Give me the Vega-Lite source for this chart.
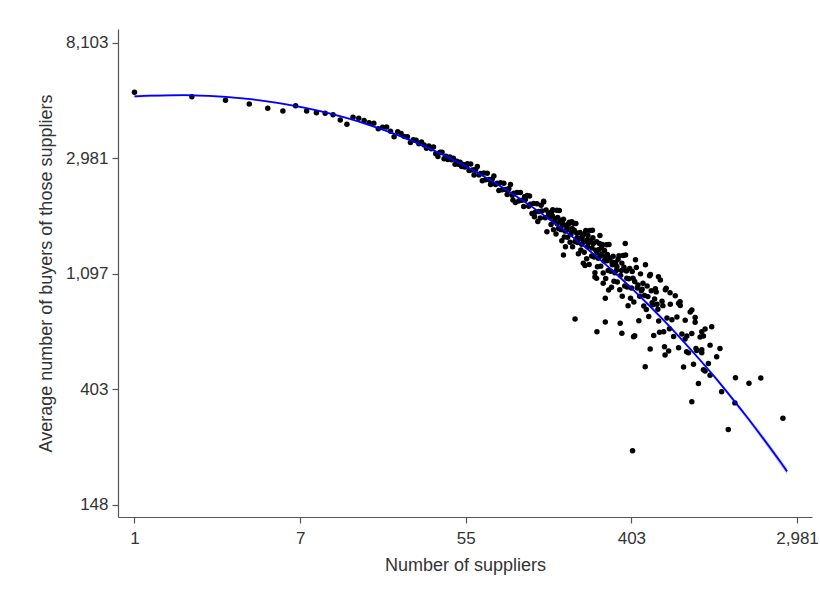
{
  "$schema": "https://vega.github.io/schema/vega-lite/v6.json",
  "width": 694,
  "height": 488,
  "padding": {"left": 118, "top": 29, "right": 8, "bottom": 86},
  "autosize": {"type": "none"},
  "background": "white",
  "config": {
    "view": {"stroke": null},
    "axis": {
      "grid": false,
      "domainColor": "#555555",
      "domainWidth": 1.2,
      "tickColor": "#555555",
      "tickWidth": 1.2,
      "tickSize": 6,
      "labelFont": "Liberation Sans",
      "labelFontSize": 17,
      "labelColor": "#333333",
      "labelPadding": 4,
      "labelFlush": false,
      "labelOverlap": false,
      "labelBound": false,
      "titleFont": "Liberation Sans",
      "titleFontSize": 18,
      "titleFontWeight": "normal",
      "titleColor": "#333333"
    }
  },
  "datasets": {
    "fit": [
      {"u": 0, "fit": 8.533, "lo": 8.521, "hi": 8.545},
      {"u": 0.2, "fit": 8.540, "lo": 8.529, "hi": 8.551},
      {"u": 0.4, "fit": 8.543, "lo": 8.533, "hi": 8.553},
      {"u": 0.6, "fit": 8.544, "lo": 8.535, "hi": 8.553},
      {"u": 0.8, "fit": 8.540, "lo": 8.532, "hi": 8.548},
      {"u": 1.0, "fit": 8.533, "lo": 8.525, "hi": 8.541},
      {"u": 1.2, "fit": 8.523, "lo": 8.515, "hi": 8.531},
      {"u": 1.4, "fit": 8.509, "lo": 8.502, "hi": 8.516},
      {"u": 1.6, "fit": 8.490, "lo": 8.483, "hi": 8.497},
      {"u": 1.8, "fit": 8.468, "lo": 8.461, "hi": 8.475},
      {"u": 2.0, "fit": 8.442, "lo": 8.435, "hi": 8.449},
      {"u": 2.2, "fit": 8.412, "lo": 8.405, "hi": 8.419},
      {"u": 2.4, "fit": 8.377, "lo": 8.370, "hi": 8.384},
      {"u": 2.6, "fit": 8.338, "lo": 8.331, "hi": 8.345},
      {"u": 2.8, "fit": 8.294, "lo": 8.287, "hi": 8.301},
      {"u": 3.0, "fit": 8.245, "lo": 8.238, "hi": 8.252},
      {"u": 3.2, "fit": 8.192, "lo": 8.185, "hi": 8.199},
      {"u": 3.4, "fit": 8.133, "lo": 8.126, "hi": 8.140},
      {"u": 3.6, "fit": 8.070, "lo": 8.063, "hi": 8.077},
      {"u": 3.8, "fit": 8.001, "lo": 7.994, "hi": 8.008},
      {"u": 4.0, "fit": 7.928, "lo": 7.921, "hi": 7.935},
      {"u": 4.2, "fit": 7.848, "lo": 7.841, "hi": 7.855},
      {"u": 4.4, "fit": 7.764, "lo": 7.757, "hi": 7.771},
      {"u": 4.6, "fit": 7.673, "lo": 7.666, "hi": 7.680},
      {"u": 4.8, "fit": 7.577, "lo": 7.570, "hi": 7.584},
      {"u": 5.0, "fit": 7.475, "lo": 7.468, "hi": 7.482},
      {"u": 5.2, "fit": 7.367, "lo": 7.360, "hi": 7.374},
      {"u": 5.4, "fit": 7.253, "lo": 7.246, "hi": 7.260},
      {"u": 5.6, "fit": 7.133, "lo": 7.125, "hi": 7.141},
      {"u": 5.8, "fit": 7.007, "lo": 6.999, "hi": 7.015},
      {"u": 6.0, "fit": 6.874, "lo": 6.865, "hi": 6.883},
      {"u": 6.2, "fit": 6.734, "lo": 6.724, "hi": 6.744},
      {"u": 6.4, "fit": 6.588, "lo": 6.577, "hi": 6.599},
      {"u": 6.6, "fit": 6.435, "lo": 6.423, "hi": 6.447},
      {"u": 6.8, "fit": 6.275, "lo": 6.261, "hi": 6.289},
      {"u": 7.0, "fit": 6.109, "lo": 6.093, "hi": 6.125},
      {"u": 7.2, "fit": 5.934, "lo": 5.916, "hi": 5.952},
      {"u": 7.4, "fit": 5.753, "lo": 5.732, "hi": 5.774},
      {"u": 7.6, "fit": 5.564, "lo": 5.540, "hi": 5.588},
      {"u": 7.8, "fit": 5.368, "lo": 5.341, "hi": 5.395},
      {"u": 7.88, "fit": 5.287, "lo": 5.258, "hi": 5.316}
    ],
    "points": [
      {"u": 0, "v": 8.569}, {"u": 0.693, "v": 8.531}, {"u": 1.099, "v": 8.500}, {"u": 1.386, "v": 8.468},
      {"u": 1.609, "v": 8.430}, {"u": 1.792, "v": 8.407}, {"u": 1.946, "v": 8.453}, {"u": 2.079, "v": 8.407},
      {"u": 2.197, "v": 8.392}, {"u": 2.303, "v": 8.387}, {"u": 2.398, "v": 8.375}, {"u": 2.485, "v": 8.329},
      {"u": 2.565, "v": 8.292}, {"u": 2.639, "v": 8.352},
      {"u": 2.708, "v": 8.344}, {"u": 2.773, "v": 8.325}, {"u": 2.833, "v": 8.306}, {"u": 2.890, "v": 8.302},
      {"u": 2.944, "v": 8.254}, {"u": 2.996, "v": 8.266}, {"u": 3.045, "v": 8.268}, {"u": 3.091, "v": 8.231},
      {"u": 3.135, "v": 8.185}, {"u": 3.178, "v": 8.228}, {"u": 3.219, "v": 8.212}, {"u": 3.258, "v": 8.186},
      {"u": 3.296, "v": 8.184}, {"u": 3.332, "v": 8.134}, {"u": 3.367, "v": 8.158}, {"u": 3.401, "v": 8.153},
      {"u": 3.434, "v": 8.123}, {"u": 3.466, "v": 8.138}, {"u": 3.497, "v": 8.113}, {"u": 3.526, "v": 8.084},
      {"u": 3.555, "v": 8.104}, {"u": 3.584, "v": 8.080}, {"u": 3.611, "v": 8.096}, {"u": 3.638, "v": 8.037},
      {"u": 3.664, "v": 8.013}, {"u": 3.689, "v": 8.050}, {"u": 3.714, "v": 8.051}, {"u": 3.738, "v": 7.993},
      {"u": 3.761, "v": 8.015}, {"u": 3.784, "v": 7.987}, {"u": 3.807, "v": 8.008}, {"u": 3.829, "v": 7.985},
      {"u": 3.850, "v": 7.998}, {"u": 3.871, "v": 7.945}, {"u": 3.892, "v": 7.973}, {"u": 3.912, "v": 7.945},
      {"u": 3.932, "v": 7.963}, {"u": 3.951, "v": 7.926}, {"u": 3.970, "v": 7.944}, {"u": 3.989, "v": 7.922},
      {"u": 4.007, "v": 7.935},
      {"u": 4.02, "v": 7.950}, {"u": 4.04, "v": 7.892}, {"u": 4.06, "v": 7.949}, {"u": 4.08, "v": 7.896},
      {"u": 4.10, "v": 7.853}, {"u": 4.12, "v": 7.900}, {"u": 4.14, "v": 7.927}, {"u": 4.16, "v": 7.854},
      {"u": 4.18, "v": 7.866}, {"u": 4.20, "v": 7.803}, {"u": 4.22, "v": 7.870}, {"u": 4.24, "v": 7.811},
      {"u": 4.26, "v": 7.868}, {"u": 4.28, "v": 7.814}, {"u": 4.30, "v": 7.771}, {"u": 4.32, "v": 7.818},
      {"u": 4.34, "v": 7.844}, {"u": 4.36, "v": 7.771}, {"u": 4.38, "v": 7.782}, {"u": 4.40, "v": 7.719},
      {"u": 4.42, "v": 7.785}, {"u": 4.44, "v": 7.726}, {"u": 4.46, "v": 7.782}, {"u": 4.48, "v": 7.728},
      {"u": 4.50, "v": 7.684}, {"u": 4.52, "v": 7.736}, {"u": 4.54, "v": 7.770}, {"u": 4.56, "v": 7.678},
      {"u": 4.58, "v": 7.695}, {"u": 4.60, "v": 7.615}, {"u": 4.62, "v": 7.702}, {"u": 4.64, "v": 7.628},
      {"u": 4.66, "v": 7.702}, {"u": 4.68, "v": 7.635}, {"u": 4.70, "v": 7.580}, {"u": 4.72, "v": 7.641},
      {"u": 4.74, "v": 7.676}, {"u": 4.76, "v": 7.583}, {"u": 4.78, "v": 7.600}, {"u": 4.80, "v": 7.519},
      {"u": 4.82, "v": 7.606}, {"u": 4.84, "v": 7.531}, {"u": 4.86, "v": 7.604}, {"u": 4.88, "v": 7.536},
      {"u": 4.90, "v": 7.481}, {"u": 4.92, "v": 7.542}, {"u": 4.94, "v": 7.626}, {"u": 4.96, "v": 7.482},
      {"u": 4.98, "v": 7.362}, {"u": 5.00, "v": 7.515},
      {"u": 4.11, "v": 7.899}, {"u": 4.31, "v": 7.787}, {"u": 4.51, "v": 7.724}, {"u": 4.71, "v": 7.665},
      {"u": 4.83, "v": 7.492}, {"u": 4.91, "v": 7.591}, {"u": 4.97, "v": 7.550}, {"u": 4.57, "v": 7.637},
      {"u": 4.77, "v": 7.672}, {"u": 4.87, "v": 7.451},
      {"u": 5.01, "v": 7.526}, {"u": 5.03, "v": 7.424}, {"u": 5.05, "v": 7.553}, {"u": 5.07, "v": 7.451},
      {"u": 5.09, "v": 7.342}, {"u": 5.11, "v": 7.486}, {"u": 5.13, "v": 7.545}, {"u": 5.15, "v": 7.380},
      {"u": 5.17, "v": 7.418}, {"u": 5.19, "v": 7.316}, {"u": 5.21, "v": 7.417}, {"u": 5.23, "v": 7.315},
      {"u": 5.25, "v": 7.444}, {"u": 5.27, "v": 7.341}, {"u": 5.29, "v": 7.232}, {"u": 5.31, "v": 7.374},
      {"u": 5.33, "v": 7.433}, {"u": 5.35, "v": 7.268}, {"u": 5.37, "v": 7.305}, {"u": 5.39, "v": 7.203},
      {"u": 5.41, "v": 7.327}, {"u": 5.43, "v": 7.185}, {"u": 5.45, "v": 7.373}, {"u": 5.47, "v": 7.231},
      {"u": 5.49, "v": 7.079}, {"u": 5.51, "v": 7.287}, {"u": 5.53, "v": 7.375}, {"u": 5.55, "v": 7.143},
      {"u": 5.57, "v": 7.201}, {"u": 5.59, "v": 7.059}, {"u": 5.61, "v": 7.207}, {"u": 5.63, "v": 7.064},
      {"u": 5.65, "v": 7.252}, {"u": 5.67, "v": 7.109}, {"u": 5.69, "v": 6.956}, {"u": 5.71, "v": 7.164},
      {"u": 5.73, "v": 7.251}, {"u": 5.75, "v": 7.019}, {"u": 5.77, "v": 7.076}, {"u": 5.79, "v": 6.933},
      {"u": 5.81, "v": 7.096}, {"u": 5.83, "v": 6.927}, {"u": 5.85, "v": 7.154}, {"u": 5.87, "v": 6.984},
      {"u": 5.89, "v": 6.803}, {"u": 5.91, "v": 7.054}, {"u": 5.93, "v": 7.160}, {"u": 5.95, "v": 6.883},
      {"u": 5.97, "v": 6.954}, {"u": 5.99, "v": 6.785},
      {"u": 5.02, "v": 7.485}, {"u": 5.04, "v": 7.537}, {"u": 5.06, "v": 7.380}, {"u": 5.08, "v": 7.474},
      {"u": 5.10, "v": 7.547}, {"u": 5.12, "v": 7.389}, {"u": 5.14, "v": 7.462}, {"u": 5.16, "v": 7.283},
      {"u": 5.18, "v": 7.469}, {"u": 5.20, "v": 7.367}, {"u": 5.22, "v": 7.376}, {"u": 5.24, "v": 7.428},
      {"u": 5.26, "v": 7.270}, {"u": 5.28, "v": 7.363}, {"u": 5.30, "v": 7.436}, {"u": 5.32, "v": 7.278},
      {"u": 5.34, "v": 7.350}, {"u": 5.36, "v": 7.171}, {"u": 5.38, "v": 7.355}, {"u": 5.40, "v": 7.253},
      {"u": 5.42, "v": 7.271}, {"u": 5.44, "v": 7.349}, {"u": 5.46, "v": 7.127}, {"u": 5.48, "v": 7.265},
      {"u": 5.50, "v": 7.373}, {"u": 5.52, "v": 7.151}, {"u": 5.54, "v": 7.259}, {"u": 5.56, "v": 7.007},
      {"u": 5.58, "v": 7.275}, {"u": 5.60, "v": 7.133}, {"u": 5.62, "v": 7.150}, {"u": 5.64, "v": 7.228},
      {"u": 5.66, "v": 7.005}, {"u": 5.68, "v": 7.143}, {"u": 5.70, "v": 7.250}, {"u": 5.72, "v": 7.027},
      {"u": 5.74, "v": 7.135}, {"u": 5.76, "v": 6.882}, {"u": 5.78, "v": 7.150}, {"u": 5.80, "v": 7.007},
      {"u": 5.82, "v": 7.029}, {"u": 5.84, "v": 7.124}, {"u": 5.86, "v": 6.859}, {"u": 5.88, "v": 7.026},
      {"u": 5.90, "v": 7.156}, {"u": 5.92, "v": 6.891}, {"u": 5.94, "v": 7.022}, {"u": 5.96, "v": 6.720},
      {"u": 5.98, "v": 7.043}, {"u": 6.00, "v": 6.874},
      {"u": 5.045, "v": 7.500}, {"u": 5.105, "v": 7.430}, {"u": 5.165, "v": 7.440}, {"u": 5.225, "v": 7.395},
      {"u": 5.285, "v": 7.390}, {"u": 5.345, "v": 7.310}, {"u": 5.405, "v": 7.300}, {"u": 5.465, "v": 7.290},
      {"u": 5.525, "v": 7.220}, {"u": 5.585, "v": 7.180}, {"u": 5.645, "v": 7.170}, {"u": 5.705, "v": 7.110},
      {"u": 5.765, "v": 7.100}, {"u": 5.825, "v": 7.060}, {"u": 5.885, "v": 7.090}, {"u": 5.945, "v": 6.960},
      {"u": 5.475, "v": 7.330}, {"u": 5.535, "v": 7.310}, {"u": 5.615, "v": 7.260}, {"u": 5.675, "v": 7.200},
      {"u": 5.32, "v": 6.606}, {"u": 5.584, "v": 6.496}, {"u": 5.685, "v": 6.580}, {"u": 5.865, "v": 6.569},
      {"u": 5.885, "v": 6.482}, {"u": 5.18, "v": 7.160}, {"u": 5.204, "v": 7.232}, {"u": 5.42, "v": 7.088},
      {"u": 5.58, "v": 6.958}, {"u": 5.685, "v": 6.785}, {"u": 5.44, "v": 7.070}, {"u": 5.56, "v": 6.970},
      {"u": 5.66, "v": 6.915}, {"u": 5.725, "v": 6.857}, {"u": 5.926, "v": 7.260}, {"u": 5.62, "v": 7.330},
      {"u": 5.28, "v": 7.449}, {"u": 4.94, "v": 7.620},
      {"u": 6.01, "v": 7.017}, {"u": 6.03, "v": 6.753}, {"u": 6.05, "v": 7.119}, {"u": 6.07, "v": 6.875},
      {"u": 6.09, "v": 6.591}, {"u": 6.11, "v": 6.997}, {"u": 6.13, "v": 6.863}, {"u": 6.15, "v": 6.719},
      {"u": 6.17, "v": 7.075}, {"u": 6.19, "v": 6.891}, {"u": 6.21, "v": 6.627}, {"u": 6.23, "v": 6.992},
      {"u": 6.25, "v": 6.748}, {"u": 6.27, "v": 6.463}, {"u": 6.29, "v": 6.868}, {"u": 6.31, "v": 6.734},
      {"u": 6.33, "v": 6.589}, {"u": 6.35, "v": 6.944}, {"u": 6.37, "v": 6.760}, {"u": 6.39, "v": 6.495},
      {"u": 6.41, "v": 6.860}, {"u": 6.43, "v": 6.615}, {"u": 6.45, "v": 6.330}, {"u": 6.47, "v": 6.734},
      {"u": 6.49, "v": 6.599}, {"u": 6.51, "v": 6.454}, {"u": 6.53, "v": 6.808}, {"u": 6.55, "v": 6.623},
      {"u": 6.57, "v": 6.358}, {"u": 6.59, "v": 6.723}, {"u": 6.61, "v": 6.477}, {"u": 6.63, "v": 6.191},
      {"u": 6.65, "v": 6.595}, {"u": 6.67, "v": 6.459}, {"u": 6.69, "v": 6.313}, {"u": 6.71, "v": 6.667},
      {"u": 6.73, "v": 6.481}, {"u": 6.75, "v": 6.215}, {"u": 6.77, "v": 6.579}, {"u": 6.79, "v": 6.333},
      {"u": 6.81, "v": 6.047}, {"u": 6.83, "v": 6.450}, {"u": 6.85, "v": 6.314}, {"u": 6.87, "v": 6.167},
      {"u": 6.89, "v": 6.520},
      {"u": 6.02, "v": 6.960}, {"u": 6.06, "v": 7.052}, {"u": 6.10, "v": 6.804}, {"u": 6.14, "v": 6.916},
      {"u": 6.18, "v": 6.688}, {"u": 6.22, "v": 6.980}, {"u": 6.26, "v": 6.730}, {"u": 6.30, "v": 6.841},
      {"u": 6.34, "v": 6.492}, {"u": 6.38, "v": 6.722}, {"u": 6.42, "v": 6.873}, {"u": 6.46, "v": 6.522},
      {"u": 6.04, "v": 6.930}, {"u": 6.08, "v": 6.900}, {"u": 6.12, "v": 6.850}, {"u": 6.16, "v": 6.810},
      {"u": 6.20, "v": 6.800}, {"u": 6.24, "v": 6.850}, {"u": 6.28, "v": 6.780}, {"u": 6.32, "v": 6.690},
      {"u": 6.167, "v": 6.193}, {"u": 6.227, "v": 6.346}, {"u": 6.40, "v": 6.366}, {"u": 6.407, "v": 6.294},
      {"u": 6.014, "v": 5.466}, {"u": 6.04, "v": 6.462}, {"u": 6.026, "v": 6.453}, {"u": 6.327, "v": 6.972},
      {"u": 6.467, "v": 6.834}, {"u": 6.588, "v": 6.756}, {"u": 6.73, "v": 6.684}, {"u": 6.77, "v": 6.620},
      {"u": 6.57, "v": 6.742}, {"u": 6.667, "v": 6.323}, {"u": 6.78, "v": 6.350}, {"u": 6.648, "v": 6.433},
      {"u": 6.87, "v": 6.459}, {"u": 6.85, "v": 6.496}, {"u": 6.85, "v": 6.340}, {"u": 6.73, "v": 5.890},
      {"u": 6.93, "v": 6.220}, {"u": 6.89, "v": 6.156}, {"u": 6.95, "v": 6.120}, {"u": 6.97, "v": 6.540},
      {"u": 6.95, "v": 6.380}, {"u": 7.03, "v": 6.280}, {"u": 7.07, "v": 6.350}, {"u": 7.09, "v": 5.977},
      {"u": 7.17, "v": 5.650}, {"u": 7.25, "v": 5.880}, {"u": 7.257, "v": 6.098}, {"u": 7.42, "v": 6.050},
      {"u": 7.563, "v": 6.095}, {"u": 7.83, "v": 5.746}
    ]
  },
  "encoding": {
    "x": {
      "field": "u",
      "type": "quantitative",
      "scale": {"domain": [-0.199, 8.181], "nice": false, "zero": false},
      "axis": {
        "title": "Number of suppliers",
        "values": [0, 2, 4, 6, 8],
        "labelExpr": "format(exp(datum.value), ',.0f')",
        "labelPadding": 7,
        "titlePadding": 10
      }
    }
  },
  "layer": [
    {
      "data": {"name": "fit"},
      "mark": {"type": "area", "color": "#8c8cff", "opacity": 0.45},
      "encoding": {
        "y": {
          "field": "lo",
          "type": "quantitative",
          "scale": {"domain": [4.892, 9.117], "nice": false, "zero": false},
          "axis": {
            "title": "Average number of buyers of those suppliers",
            "values": [5, 6, 7, 8, 9],
            "labelExpr": "format(exp(datum.value), ',.0f')",
            "titlePadding": 10
          }
        },
        "y2": {"field": "hi"}
      }
    },
    {
      "data": {"name": "points"},
      "mark": {"type": "circle", "size": 30, "color": "black", "opacity": 1},
      "encoding": {
        "y": {
          "field": "v",
          "type": "quantitative",
          "scale": {"domain": [4.892, 9.117], "nice": false, "zero": false},
          "axis": {
            "title": "Average number of buyers of those suppliers",
            "values": [5, 6, 7, 8, 9],
            "labelExpr": "format(exp(datum.value), ',.0f')",
            "titlePadding": 10
          }
        }
      }
    },
    {
      "data": {"name": "fit"},
      "mark": {"type": "line", "color": "#0000ff", "strokeWidth": 1.8, "interpolate": "monotone"},
      "encoding": {
        "y": {
          "field": "fit",
          "type": "quantitative",
          "scale": {"domain": [4.892, 9.117], "nice": false, "zero": false},
          "axis": {
            "title": "Average number of buyers of those suppliers",
            "values": [5, 6, 7, 8, 9],
            "labelExpr": "format(exp(datum.value), ',.0f')",
            "titlePadding": 10
          }
        }
      }
    }
  ]
}
